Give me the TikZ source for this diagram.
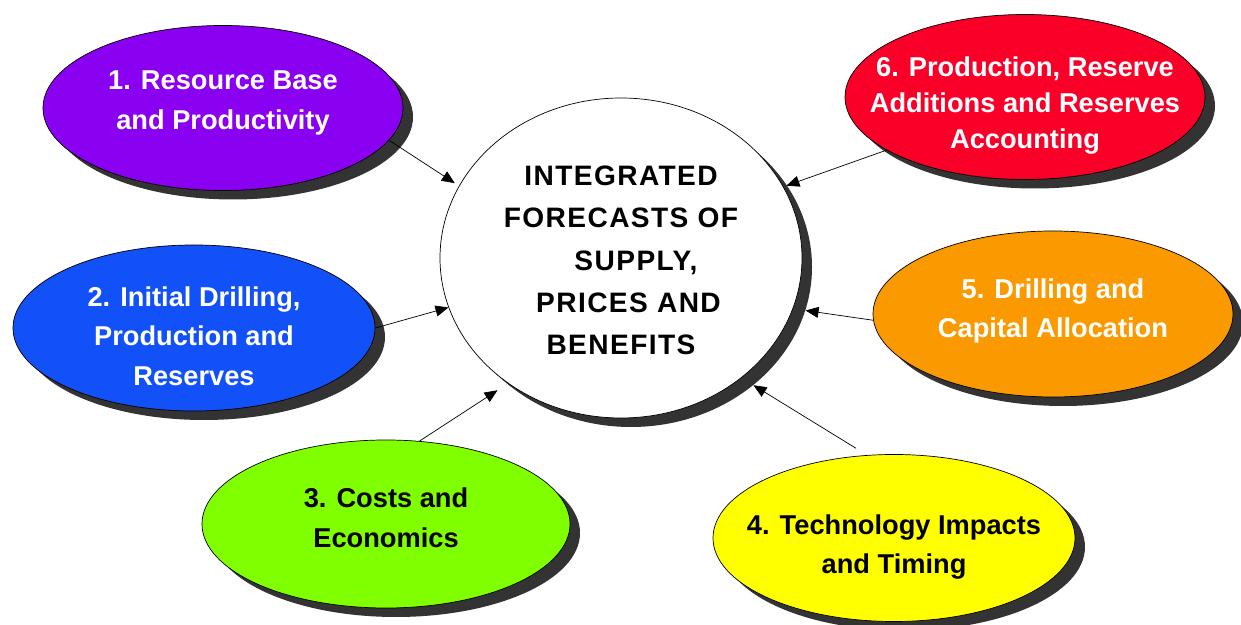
\documentclass[tikz,border=0pt]{standalone}
\usepackage{fontspec}
\setmainfont{Liberation Sans}
\newfontfamily\hubfont[LetterSpace=5]{Liberation Sans}
\usetikzlibrary{arrows.meta,shapes,positioning,shadows}
\definecolor{violetfill}{HTML}{8A00F0}
\definecolor{bluefill}{HTML}{1250F8}
\definecolor{greenfill}{HTML}{80FF00}
\definecolor{yellowfill}{HTML}{FFFF00}
\definecolor{orangefill}{HTML}{FA9A00}
\definecolor{redfill}{HTML}{FA0028}
\definecolor{shadowgray}{HTML}{333333}
\newcommand{\bubtext}{\bfseries\fontsize{15.5}{22.5}\selectfont}
\newcommand{\hubtext}{\hubfont\bfseries\fontsize{16}{24}\selectfont}

\begin{document}
\begin{tikzpicture}
    \tikzset{vertex/.style = {shape=ellipse,draw,thin,inner sep=0pt,minimum width=7.2cm,minimum height=3.3cm,
        drop shadow={shadow xshift=0.2cm,shadow yshift=-0.18cm,fill=shadowgray,opacity=1}}}
    \tikzset{caption/.style = {align=center,font=\bubtext}}
    \tikzset{edge/.style = {-{Triangle[length=0.26cm,width=0.22cm]},thin}}
    \useasboundingbox (0,0) rectangle (24.82,12.5);
    % vertices
    \node[vertex,fill=white,minimum width=7.24cm,minimum height=6.4cm] (0) at (12.42,7.34) {};
    \node[vertex,fill=violetfill] (1) at  (4.46,10.34) {};
    \node[vertex,fill=bluefill,minimum width=7.24cm,minimum height=3.32cm] (2) at  (3.88,5.94) {};
    \node[vertex,fill=greenfill,minimum width=7.36cm,minimum height=3.36cm] (3) at  (7.72,2.02) {};
    \node[vertex,fill=yellowfill,minimum width=7.24cm,minimum height=3.34cm] (4) at  (17.88,1.74) {};
    \node[vertex,fill=orangefill,minimum height=3.32cm] (5) at  (21.06,6.22) {};
    \node[vertex,fill=redfill] (6) at  (20.5,10.56) {};
    % texts
    \node[align=center,font=\hubtext] (t0) at ([yshift=-0.05cm]0) {INTEGRATED\\FORECASTS OF\\\hspace*{0.6cm}SUPPLY,\\\hspace*{0.3cm}PRICES AND\\BENEFITS};
    \node[caption,text=white] (t1) at ([yshift=0.1cm]1) {1. Resource Base\\and Productivity};
    \node[caption,text=white] (t2) at ([yshift=-0.16cm]2) {2. Initial Drilling,\\Production and\\Reserves};
    \node[caption] (t3) at ([yshift=0.12cm]3) {3. Costs and\\Economics};
    \node[caption] (t4) at ([yshift=-0.18cm]4) {4. Technology Impacts\\and Timing};
    \node[caption,text=white,font=\bfseries\fontsize{15.5}{20.5}\selectfont] (t6) at ([yshift=-0.18cm]6) {6. Production, Reserve\\Additions and Reserves\\Accounting};
    \node[caption,text=white] (t5) at ([yshift=0.06cm]5) {5. Drilling and\\Capital Allocation};
    % arrows (right-hand ones end on the hub's shadow)
    \draw[edge,shorten >=0.1cm] (1.-11) -- (0.156);
    \draw[edge] (2.0) -- (0.-164);
    \draw[edge,shorten >=0.25cm] (3.68) -- (0.-132);
    \draw[edge,shorten <=0.26cm] (4.108) -- ([shift={(0.2cm,-0.18cm)}]0.-44);
    \draw[edge] (5.182) -- ([shift={(0.2cm,-0.18cm)}]0.-14);
    \draw[edge] (6.201) -- ([shift={(0.1cm,-0.05cm)}]0.25);
\end{tikzpicture}
\end{document}
